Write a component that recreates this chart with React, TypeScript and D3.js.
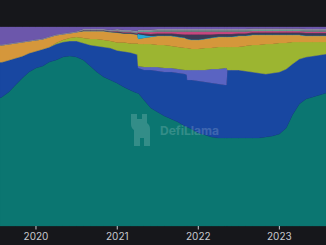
import React from "react";
import * as d3 from "d3";

const dates = [
  "2019-07-23","2019-08-01","2019-09-01","2019-10-01","2019-11-01","2019-12-01",
  "2020-01-01","2020-02-01","2020-03-01","2020-04-01","2020-05-01","2020-06-01",
  "2020-07-01","2020-08-01","2020-09-01","2020-10-01","2020-11-01","2020-12-01",
  "2021-01-01","2021-02-01","2021-03-01","2021-04-01","2021-04-05","2021-05-01",
  "2021-06-01","2021-07-01","2021-08-01","2021-09-01","2021-10-01","2021-11-01",
  "2021-11-10","2021-11-12","2021-12-01","2022-01-01","2022-02-01","2022-03-01",
  "2022-04-01","2022-05-01","2022-05-08","2022-05-12","2022-06-01","2022-07-01",
  "2022-08-01","2022-09-01","2022-10-01","2022-11-01","2022-12-01","2023-01-01",
  "2023-02-01","2023-03-01","2023-04-01","2023-05-01","2023-06-01","2023-07-01",
  "2023-07-30",
];

// dominance shares (%), bottom to top
const teal = [64,64.5,67,70.5,74,77,79,80,82,83,84.5,85,84.5,83,80,77,74.5,73,71.5,69.5,68,66.5,66.5,63,59,57,55,53.5,52,50,49.5,49.5,48.5,46.5,45.5,44.5,44,44,44,44,44,44,44,44,44,44.5,45,46,49,55.5,61,63.5,64.5,65.5,66.5];
const blue = [18,17.5,16,13.5,11,9.5,8.5,8.5,7.5,8,7.5,7.5,8,8.5,10.5,13,15,16,16.5,18,19,19.5,12.5,15,19,20.5,22,23.5,24.5,26,26,23.5,24.5,26,26.5,27,27,26.5,26.5,34,34,34,33.5,33,32.5,31.5,31.5,31,29.5,25.5,22.5,21,20.5,20,19.5];
const lavender = [0,0,0,0,0,0,0,0,0,0,0,0,0,0,0,0,0,0,0,0,0,0,1,1.5,1.5,2,2,2,2,2,2.5,5,5,5.5,6,7,7.5,8.5,8.5,0,0,0,0,0,0,0,0,0,0,0,0,0,0,0,0];
const green = [0,0,0,0,0,0,0,0,0,0.5,1,1.5,2,2.5,3,3.5,3.5,3.5,4,4.5,4.5,5.5,11,11.5,11.5,11,11.5,11,11,11,11,11,10.5,10.5,11,10.5,11,10.5,10.5,11.5,11.5,11.5,12.5,13.5,14,15,14.5,14.5,13,11,8.5,7.5,7,6.5,6];
const orange = [8.5,8.5,8,7.5,7,6,5.5,5,5,4,3,2.5,2.5,3.5,4,4,4.5,4.5,5,4.5,5,4.5,2.5,3,3.5,4.5,4.5,5,5,5,4.5,4.5,4.5,4.5,4.5,5,5,5,5,5,5,5.5,5,5,5,4.5,4.5,4,4,3.5,3.5,3,3,3,3];
const cyan = [0,0,0,0,0,0,0,0,0,0,0,0,0,0,0,0,0,0,0,0,0,0,2.5,1.5,0.5,0.25,0.25,0.25,0.25,0.25,0.25,0.25,0.25,0.25,0.25,0.25,0.25,0.25,0.25,0.25,0.25,0.25,0.25,0.25,0.25,0.25,0.25,0.25,0.25,0.25,0.25,0.25,0.25,0.25,0.25];
const dark = [0,0,0,0,0,0,0,0,0,0,0,0,0,0.5,0.5,0.5,0.5,0.5,0.5,0.5,0.5,0.5,0.5,0.75,1,1,1,1,1.25,1.5,2,2,2.5,2.5,2,1.5,1.25,1.25,1.25,1.25,1.25,1,1,1,1,1,1,1,1,1,1,1.25,1.25,1.25,1.25];
const pink = [0,0,0,0,0,0,0,0,0,0,0,0,0,0,0,0,0,0,0.25,0.25,0.25,0.25,0.5,0.75,1,1,1,1,1.25,1.5,1.5,1.5,1.5,1.5,1.5,1.5,1.25,1.25,1.25,1.25,1.25,1,1,0.75,0.75,0.75,0.75,0.75,0.75,0.75,0.75,0.75,0.75,0.75,0.75];
const sea = [0,0,0,0,0,0,0,0,0,0,0,0,0,0,0,0,0,0,0.25,0.25,0.25,0.25,0.5,0.5,0.5,0.5,0.5,0.5,0.5,0.5,0.5,0.5,0.5,0.5,0.5,0.5,0.5,0.5,0.5,0.5,0.5,0.5,0.5,0.5,0.5,0.5,0.5,0.5,0.5,0.5,0.5,0.5,0.5,0.5,0.5];
const grey = [0.25,0.25,0.25,0.25,0.25,0.25,0.25,0.25,0.25,0.25,0.25,0.25,0.25,0.5,0.5,0.5,0.5,0.5,0.75,0.75,0.75,0.75,0.75,0.75,0.75,0.75,0.75,0.75,0.75,0.75,0.75,0.75,0.75,0.75,0.75,0.75,0.75,0.75,0.75,0.75,0.75,0.75,0.75,0.75,0.75,0.75,0.75,0.75,0.75,0.75,0.75,0.75,0.75,0.75,0.75];
const purple = [8.75,8.75,8.25,7.75,7.25,6.75,6.25,5.75,4.75,3.75,3.25,2.75,2.25,1,1,1,1,1.5,1,1.5,1.5,2,1.25,1.25,1.25,1,1,1,1,1,1,1,1,1,1,1,1,1,1,1,1,1,1,0.75,0.75,0.75,0.75,0.75,0.75,0.75,0.75,1,1,1,1];

const seriesNames = ["teal","blue","lavender","green","orange","cyan","dark","pink","sea","grey","purple"];
const seriesValues = [teal, blue, lavender, green, orange, cyan, dark, pink, sea, grey, purple];
const seriesColors = ["#0b7671","#1847a1","#5a64c2","#9cb531","#d5973b","#27a9d6","#3d3a55","#c4477f","#5e9e8e","#8f8f9f","#6c57ab"];

const tickYears = ["2020-01-01","2021-01-01","2022-01-01","2023-01-01"];

const W = 326, H = 245;
const TOP = 27, BOTTOM = 226;

export default function App() {
  const parse = d3.utcParse("%Y-%m-%d");
  const rows = dates.map((d, i) => {
    const r: any = { date: parse(d) };
    seriesNames.forEach((k, j) => (r[k] = seriesValues[j][i]));
    return r;
  });
  const x = d3.scaleUtc().domain([parse(dates[0])!, parse(dates[dates.length - 1])!]).range([0, W]);
  const y = d3.scaleLinear().domain([0, 1]).range([BOTTOM, TOP]);
  const stack = d3.stack<any>().keys(seriesNames).offset(d3.stackOffsetExpand);
  const layers = stack(rows);
  const area = d3.area<any>()
    .x((d) => x(d.data.date))
    .y0((d) => y(d[0]))
    .y1((d) => y(d[1]));
  const ticks = tickYears.map((t) => parse(t)!);

  return (
    <svg width={W} height={H} style={{ position: "absolute", left: 0, top: 0, display: "block" }}>
      <rect x={0} y={0} width={W} height={H} fill="#16171b" />
      {layers.map((l, i) => (
        <path key={l.key} d={area(l) || ""} fill={seriesColors[i]} stroke={seriesColors[i]} strokeWidth={0.3} />
      ))}
      <g opacity={0.18} fill="#e8f4f2">
        <path d="M131 114 h6 v5 h5 v-5 h5 v9 q3 2 3 6 v17 h-6 v-8 h-4 v8 h-6 v-16 q-3 -2 -3 -6 z" />
        <text x={160} y={135} fontFamily="Inter, sans-serif" fontWeight={700} fontSize={12}>DefiLlama</text>
      </g>
      {ticks.map((t, i) => (
        <g key={i} transform={`translate(${x(t)},${BOTTOM})`}>
          <line y1={0} y2={3.5} stroke="#c8cacf" strokeWidth={1} />
          <text y={14} textAnchor="middle" fill="#c8cacf" fontSize={10} fontFamily="Inter, sans-serif">
            {d3.utcFormat("%Y")(t)}
          </text>
        </g>
      ))}
    </svg>
  );
}
